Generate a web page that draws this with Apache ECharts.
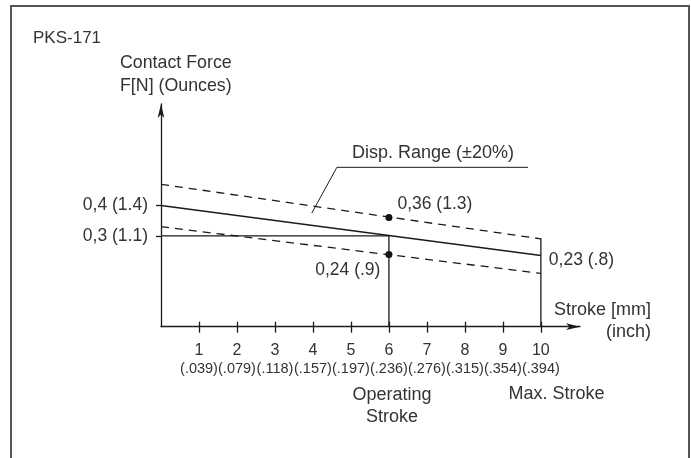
<!DOCTYPE html>
<html>
<head>
<meta charset="utf-8">
<script src="https://cdn.jsdelivr.net/npm/echarts@6/dist/echarts.min.js"></script>
<style>
  html, body { margin: 0; padding: 0; background: #fff; }
  #chart { width: 691px; height: 458px; }
</style>
</head>
<body>
<div id="chart"></div>
<script>
// stroke in mm with inch equivalents
const strokeTicks = [1, 2, 3, 4, 5, 6, 7, 8, 9, 10]
const inchLabels = ['(.039)', '(.079)', '(.118)', '(.157)', '(.197)', '(.236)', '(.276)', '(.315)', '(.354)', '(.394)']
// force ticks on the y axis and their labels
const forceTicks = [0.3, 0.4]
const forceLabels = { 0.3: '0,3 (1.1)', 0.4: '0,4 (1.4)' }

// nominal force line and the +-20% band
const nominal = [[0, 0.4], [10, 0.235]]
const upperBand = [[0, 0.47], [10, 0.29]]
const lowerBand = [[0, 0.33], [10, 0.176]]
// operating stroke guides
const opHorizontal = [[0, 0.3], [6, 0.3]]
const opVertical = [[6, 0], [6, 0.3]]
const maxVertical = [[10, 0], [10, 0.292]]
// points marked on the band
const bandPoints = [
  { value: [6, 0.36], text: '0,36 (1.3)', side: 'right', dy: -13 },
  { value: [6, 0.238], text: '0,24 (.9)', side: 'left', dy: 16 }
]
const endPoint = { value: [10, 0.235], text: '0,23 (.8)' }
// leader line for the range note
const leader = [[3.97, 0.375], [4.63, 0.526], [9.66, 0.526]]

const ink = '#1a1a1a'
const textColor = '#333'
const font = 'Liberation Sans'

const myChart = echarts.init(document.getElementById('chart'))

function lineSeries(data, dashed) {
  return {
    type: 'line',
    data: data,
    symbol: 'none',
    silent: true,
    lineStyle: { color: ink, width: 1.3, type: dashed ? [8, 6] : 'solid' }
  }
}

myChart.setOption({
  animation: false,
  textStyle: { fontFamily: font },
  grid: { left: 161, top: 104, width: 419, height: 222.7 },
  xAxis: [
    {
      type: 'value',
      min: 0,
      max: 11.03,
      interval: 1,
      splitLine: { show: false },
      axisLine: {
        lineStyle: { color: ink, width: 1.3 },
        symbol: ['none', 'arrow'],
        symbolSize: [5, 14]
      },
      axisTick: {
        customValues: strokeTicks,
        length: 6,
        lineStyle: { color: ink, width: 1.3 }
      },
      axisLabel: {
        customValues: strokeTicks,
        margin: 14,
        formatter: function (v) {
          return '{a|' + v + '}\n{b|' + inchLabels[v - 1] + '}'
        },
        rich: {
          a: { fontSize: 16, lineHeight: 19, color: textColor, fontFamily: font },
          b: { fontSize: 14.5, lineHeight: 18, color: textColor, fontFamily: font }
        }
      }
    },
    {
      type: 'value',
      position: 'bottom',
      min: 0,
      max: 11.03,
      interval: 1,
      splitLine: { show: false },
      axisLine: { show: false },
      axisTick: {
        customValues: strokeTicks,
        inside: true,
        length: 5,
        lineStyle: { color: ink, width: 1.3 }
      },
      axisLabel: { show: false, customValues: strokeTicks }
    }
  ],
  yAxis: {
    type: 'value',
    min: 0,
    max: 0.735,
    splitLine: { show: false },
    axisLine: {
      lineStyle: { color: ink, width: 1.3 },
      symbol: ['none', 'arrow'],
      symbolSize: [5, 14]
    },
    axisTick: {
      customValues: forceTicks,
      length: 5,
      lineStyle: { color: ink, width: 1.3 }
    },
    axisLabel: {
      customValues: forceTicks,
      margin: 13,
      fontSize: 17.5,
      color: textColor,
      formatter: function (v) {
        return forceLabels[Math.round(v * 10) / 10]
      }
    }
  },
  series: [
    lineSeries(nominal, false),
    lineSeries(upperBand, true),
    lineSeries(lowerBand, true),
    lineSeries(opHorizontal, false),
    lineSeries(opVertical, false),
    lineSeries(maxVertical, false),
    Object.assign(lineSeries(leader, false), { lineStyle: { color: ink, width: 1 } }),
    {
      type: 'scatter',
      symbolSize: 7,
      itemStyle: { color: '#111', opacity: 1 },
      silent: true,
      data: bandPoints.map(function (p) {
        return {
          value: p.value,
          label: {
            show: true,
            formatter: p.text,
            position: p.side,
            distance: 5,
            offset: [0, p.dy],
            fontSize: 17.5,
            color: textColor,
            opacity: 1
          }
        }
      })
    },
    {
      type: 'scatter',
      symbolSize: 0,
      silent: true,
      itemStyle: { opacity: 1 },
      data: [{
        value: endPoint.value,
        label: {
          show: true,
          formatter: endPoint.text,
          position: 'right',
          distance: 8,
          offset: [0, 4.5],
          fontSize: 17.5,
          color: textColor,
          opacity: 1
        }
      }]
    }
  ],
  graphic: [
    { type: 'rect', silent: true, shape: { x: 11, y: 6, width: 678, height: 470 },
      style: { fill: 'none', stroke: '#555', lineWidth: 2 } },
    { type: 'text', left: 33, top: 30, silent: true,
      style: { text: 'PKS-171', fontSize: 17, fill: textColor, fontFamily: font } },
    { type: 'text', left: 120, top: 52, silent: true,
      style: { text: 'Contact Force\nF[N] (Ounces)', fontSize: 17.8, lineHeight: 22.5, fill: textColor, fontFamily: font } },
    { type: 'text', x: 433, y: 153, silent: true,
      style: { text: 'Disp. Range (\u00b120%)', fontSize: 18, fill: textColor, fontFamily: font, align: 'center', verticalAlign: 'middle' } },
    { type: 'text', x: 651, y: 321, silent: true,
      style: { text: 'Stroke [mm]\n(inch)', fontSize: 18, lineHeight: 22.5, fill: textColor, fontFamily: font, align: 'right', verticalAlign: 'middle' } },
    { type: 'text', x: 392, y: 406, silent: true,
      style: { text: 'Operating\nStroke', fontSize: 18, lineHeight: 22, fill: textColor, fontFamily: font, align: 'center', verticalAlign: 'middle' } },
    { type: 'text', x: 556.5, y: 394, silent: true,
      style: { text: 'Max. Stroke', fontSize: 18, fill: textColor, fontFamily: font, align: 'center', verticalAlign: 'middle' } }
  ]
})
</script>
</body>
</html>
